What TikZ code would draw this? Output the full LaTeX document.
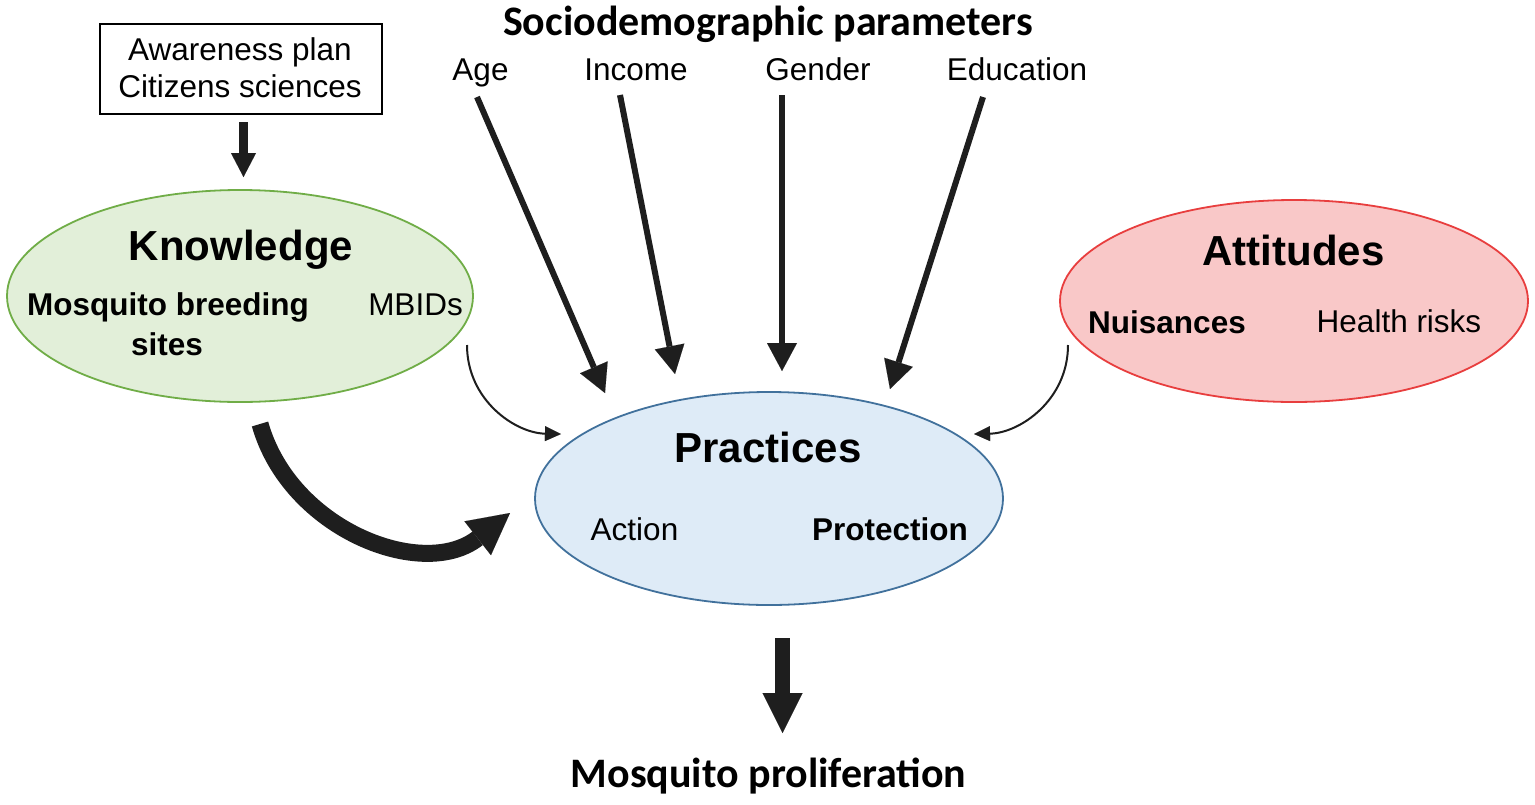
\documentclass[tikz,border=0pt]{standalone}
\usepackage{fontspec}
\setmainfont{Liberation Sans}
\newfontfamily\calfont{Carlito}
\usetikzlibrary{arrows.meta,shapes.geometric}
\definecolor{kfill}{RGB}{226,239,217}
\definecolor{kline}{RGB}{112,173,71}
\definecolor{pfill}{RGB}{222,235,247}
\definecolor{pline}{RGB}{65,113,156}
\definecolor{afill}{RGB}{249,200,200}
\definecolor{aline}{RGB}{232,62,62}
\definecolor{ink}{RGB}{30,30,30}
\begin{document}
\begin{tikzpicture}[x=1pt,y=-1pt,
  blob/.style={ellipse, draw, line width=1.8pt, inner sep=0pt},
  head/.style={font=\bfseries\fontsize{42}{50}\selectfont, anchor=base, inner sep=0pt},
  sub/.style={font=\fontsize{31.5}{37}\selectfont, anchor=base, inner sep=0pt},
  subb/.style={font=\bfseries\fontsize{31.5}{37}\selectfont, anchor=base, inner sep=0pt},
  calh/.style={font=\calfont\bfseries\fontsize{42}{50}\selectfont, anchor=base, inner sep=0pt},
  sdarrow/.style={draw=ink, line width=6pt, -{Triangle[width=30pt,length=28pt,line width=0.01pt]}},
  thinarrow/.style={draw=ink, line width=2pt, -{Triangle[width=15pt,length=16pt,line width=0.01pt]}},
  bigcurve/.style={draw=ink, line width=17pt, -{Triangle[width=43pt,length=41pt,line width=0.01pt]}},
  smallblock/.style={draw=ink, line width=9pt, -{Triangle[width=25pt,length=24pt,line width=0.01pt]}},
  bigblock/.style={draw=ink, line width=15pt, -{Triangle[width=40pt,length=40pt,line width=0.01pt]}}
]
\useasboundingbox[fill=white] (0,0) rectangle (1535,804);

% ellipses
\node[blob, fill=kfill, draw=kline, minimum width=466pt, minimum height=212pt] (K) at (240,296) {};
\node[blob, fill=pfill, draw=pline, minimum width=468pt, minimum height=213pt] (P) at (769,498.5) {};
\node[blob, fill=afill, draw=aline, minimum width=468pt, minimum height=202pt] (A) at (1294,301) {};

% awareness box
\node[draw=black, line width=1.5pt, minimum width=282pt, minimum height=90pt, inner sep=0pt] (aw) at (241,69) {};
\node[sub] (aw1) at (240,60) {Awareness plan};
\node[sub] (aw2) at (240,97) {Citizens sciences};

% texts
\node[head] (Kt) at (241,260) {Knowledge};
\node[subb] (Km1) at (168,315) {Mosquito breeding};
\node[subb] (Km2) at (167,355) {sites};
\node[sub] (Kb) at (415.5,315) {MBIDs};

\node[head] (At) at (1293.5,265) {Attitudes};
\node[subb] (An) at (1167,333) {Nuisances};
\node[sub] (Ah) at (1399,332) {Health risks};

\node[head] (Pt) at (768,462) {Practices};
\node[sub] (Pa) at (634.5,540) {Action};
\node[subb] (Pp) at (890,540) {Protection};

\node[calh] (sd) at (768,35) {Sociodemographic parameters};
\node[sub] (age) at (480.5,80) {Age};
\node[sub] (inc) at (636,80) {Income};
\node[sub] (gen) at (818,80) {Gender};
\node[sub] (edu) at (1017,80) {Education};

\node[calh] (mp) at (768.5,787) {Mosquito proliferation};

% connector end points
\coordinate (awS) at (243.5,122);
\coordinate (awT) at (243.5,177);
\coordinate (ageS) at (477,97);
\coordinate (ageT) at (605,393);
\coordinate (incS) at (620,95);
\coordinate (incT) at (675,374);
\coordinate (genS) at (782,95);
\coordinate (genT) at (782,371);
\coordinate (eduS) at (983,97);
\coordinate (eduT) at (890,389);
\coordinate (kS) at (467,345);
\coordinate (kT) at (561,434);
\coordinate (aS) at (1068,345);
\coordinate (aT) at (974,434);
\coordinate (bS) at (260,424);
\coordinate (bT) at (510,513);
\coordinate (pS) at (782.5,638);
\coordinate (pT) at (782.5,733);

% connectors
\draw[smallblock] (awS) -- (awT);
\draw[sdarrow] (ageS) -- (ageT);
\draw[sdarrow] (incS) -- (incT);
\draw[sdarrow] (genS) -- (genT);
\draw[sdarrow] (eduS) -- (eduT);
\draw[thinarrow] (kS) .. controls (467,400) and (515,433) .. (kT);
\draw[thinarrow] (aS) .. controls (1068,400) and (1020,433) .. (aT);
\draw[bigcurve] (bS) .. controls (290,530) and (423,581) .. (bT);
\draw[bigblock] (pS) -- (pT);
\end{tikzpicture}
\end{document}
